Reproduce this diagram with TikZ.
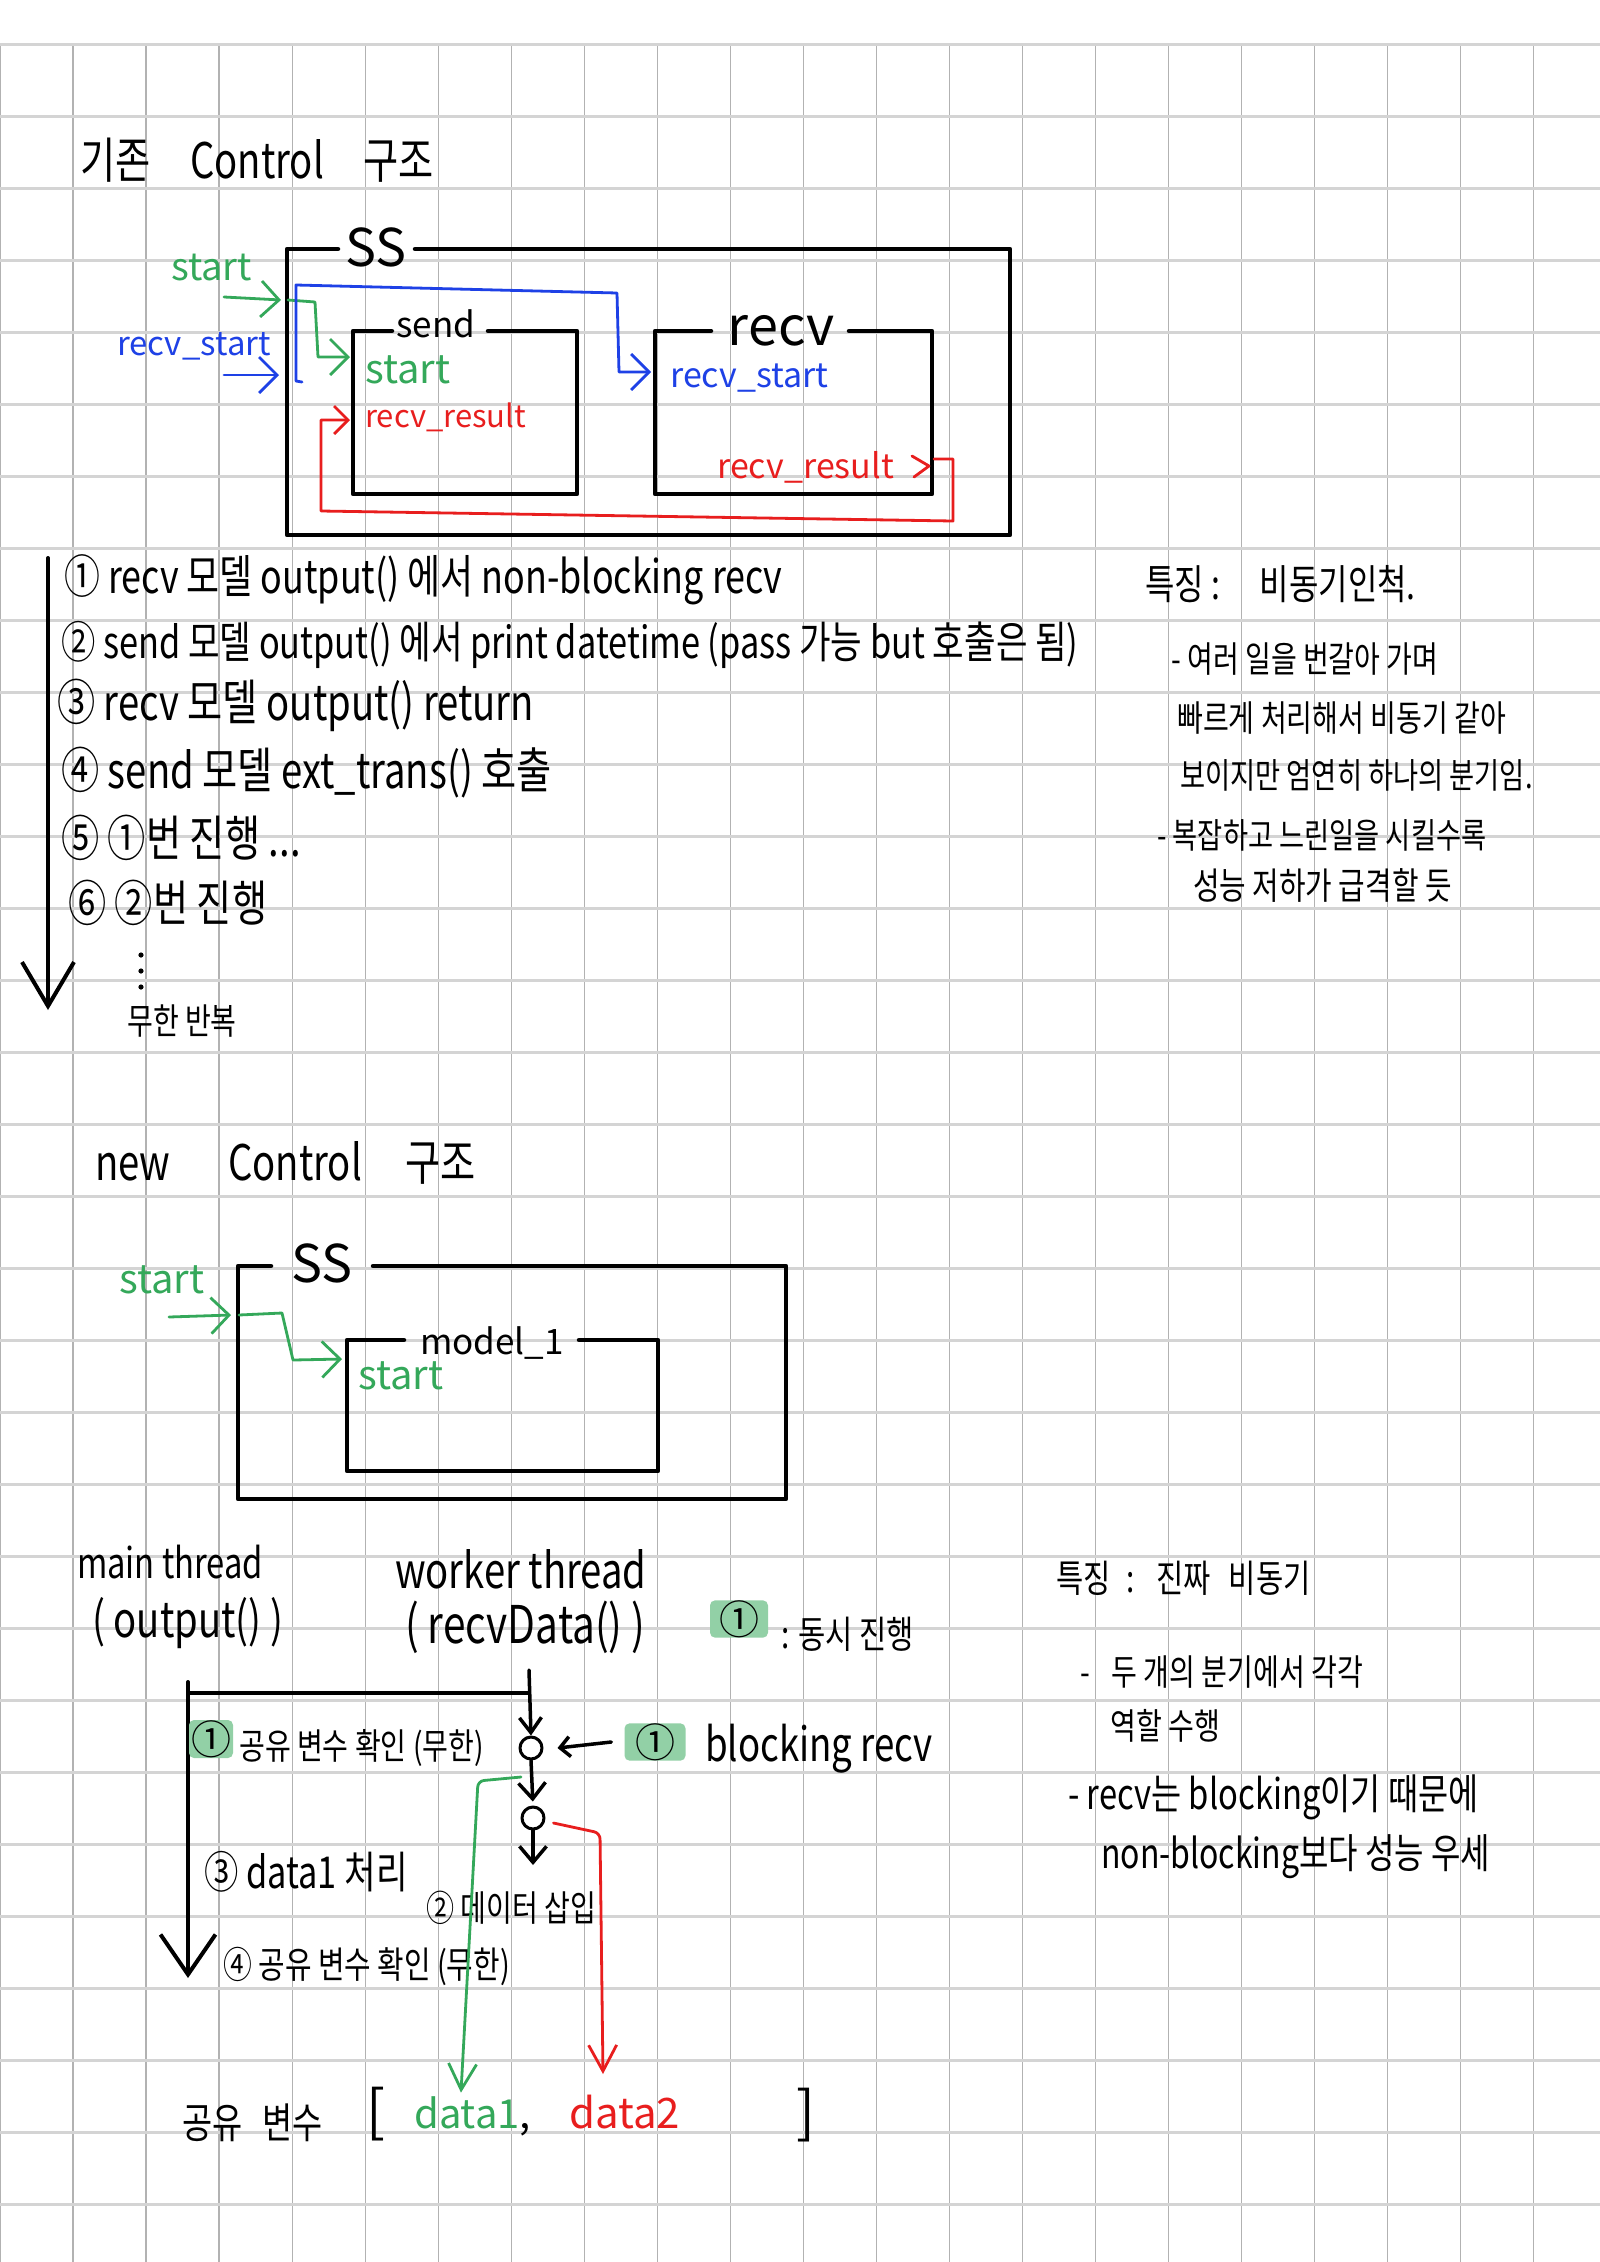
\documentclass[tikz,border=0pt]{standalone}
\usepackage{fontspec}
\setmainfont{Noto Sans CJK KR}
\usetikzlibrary{arrows.meta,calc}
\definecolor{gline}{RGB}{52,168,90}
\definecolor{bline}{RGB}{30,65,230}
\definecolor{rline}{RGB}{232,30,30}
\definecolor{hl}{RGB}{146,208,166}
\definecolor{gridh}{RGB}{212,212,212}
\definecolor{gridv}{RGB}{178,178,178}
\newcommand{\fsz}[1]{\fontsize{#1}{#1}\selectfont}
\newcommand{\nr}[1]{\scalebox{0.78}[1]{#1}}
\begin{document}
\begin{tikzpicture}[x=1pt,y=-1pt,line cap=round,line join=round,
  txt/.style={anchor=west,inner sep=0pt,text=black},
  lbl/.style={inner sep=0pt,text=black},
  hlbox/.style={fill=hl,rounded corners=5pt,inner sep=0pt,text=black},
  boxline/.style={line width=4.5pt,black},
  gpath/.style={line width=2.8pt,color=gline},
  bpath/.style={line width=2.8pt,color=bline},
  rpath/.style={line width=2.8pt,color=rline},
  tipA/.style={-{Straight Barb[length=18pt,width=36pt]}},
  tipS/.style={-{Straight Barb[length=14pt,width=28pt]}},
  tipBig/.style={-{Straight Barb[length=44pt,width=52pt]}},
  tipBigB/.style={-{Straight Barb[length=40pt,width=55pt]}},
  tipSm/.style={-{Straight Barb[length=15pt,width=22pt]}},
  tipSmB/.style={-{Straight Barb[length=16pt,width=27pt]}},
  tipD/.style={-{Straight Barb[length=26pt,width=28pt]}},
  circ/.style={circle,draw,line width=3pt,minimum size=22pt,inner sep=0pt}]
% background and grid
\fill[white] (0,0) rectangle (1600,2262);
\useasboundingbox (0,0) rectangle (1600,2262);
\foreach \k in {0,...,21} \draw[gridv,line width=1.2pt] ({73.03*\k},44.3) -- ({73.03*\k},2262);
\foreach \k in {0,...,30} \draw[gridh,line width=2.5pt] (0,{44.3+72*\k}) -- (1600,{44.3+72*\k});

% ===== Section 1 =====
\node[txt,font=\fsz{49}] (t1) at (80,160) {\nr{기존\hspace{51pt}Control\hspace{51pt}구조}};

\node[lbl,font=\fsz{52}] (ss1) at (376,247) {SS};
\draw[boxline] (338,249) -- (287,249) -- (287,535) -- (1010,535) -- (1010,249) -- (415,249);
\node[lbl,font=\fsz{35}] (sendl) at (436,324) {send};
\draw[boxline] (392,331) -- (353,331) -- (353,494) -- (577,494) -- (577,331) -- (488,331);
\node[lbl,font=\fsz{54}] (recvl) at (781,331) {recv};
\draw[boxline] (711,331) -- (655,331) -- (655,494) -- (932,494) -- (932,331) -- (849,331);

\node[txt,font=\fsz{38},text=gline] (gs1) at (171,268) {start};
\node[txt,font=\fsz{33},text=bline] (bs1) at (117,346) {recv\_start};
\node[txt,font=\fsz{40},text=gline] (sst) at (365,370) {start};
\node[txt,font=\fsz{31},text=rline] (rr1) at (365,417) {recv\_result};
\node[txt,font=\fsz{34},text=bline] (rst) at (670,378) {recv\_start};
\node[txt,font=\fsz{34},text=rline] (rr2) at (717,467) {recv\_result};

\draw[gpath,tipA] (224,297) -- (281,300);
\draw[gpath,tipA] (288,300) -- (315,302) -- (318,357) -- (350,357);
\draw[bpath,tipA] (224,375) -- (279,375);
\draw[bpath,tipA] (302,382) -- (296,381) -- (296,285) -- (617,293) -- (619,372) -- (651,372);
\draw[rpath] (912,456) -- (929,466) -- (914,477);
\draw[rpath,tipS] (934,459) -- (953,459) -- (953,521) -- (321,511) -- (321,420) -- (350,420);

% list
\coordinate (a1s) at (48,558);
\coordinate (a1e) at (48,1010);
\draw[line width=4pt,tipBig] (a1s) -- (a1e);
\node[txt,font=\fsz{46}] (l1) at (64,580) {\nr{① recv 모델 output() 에서 non-blocking recv}};
\node[txt,font=\fsz{44}] (l2) at (61,645) {\nr{② send 모델 output() 에서 print datetime (pass 가능 but 호출은 됨)}};
\node[txt,font=\fsz{49}] (l3) at (57,705) {\nr{③ recv 모델 output() return}};
\node[txt,font=\fsz{49}] (l4) at (61,773) {\nr{④ send 모델 ext\_trans() 호출}};
\node[txt,font=\fsz{49}] (l5) at (61,838) {\nr{⑤ ①번 진행 ...}};
\node[txt,font=\fsz{49}] (l6) at (68,903) {\nr{⑥ ②번 진행}};
\fill (141,955) circle[radius=2.6pt];
\fill (141,971) circle[radius=2.6pt];
\fill (141,987) circle[radius=2.6pt];
\node[txt,font=\fsz{36}] (inf) at (127,1021) {\nr{무한 반복}};

% right notes 1
\node[txt,font=\fsz{41}] (f1) at (1145,584) {\nr{특징 :\hspace{51pt}비동기인척.}};
\node[txt,font=\fsz{36}] (f2) at (1171,659) {\nr{- 여러 일을 번갈아 가며}};
\node[txt,font=\fsz{36}] (f3) at (1177,718) {\nr{빠르게 처리해서 비동기 같아}};
\node[txt,font=\fsz{35}] (f4) at (1180,775) {\nr{보이지만 엄연히 하나의 분기임.}};
\node[txt,font=\fsz{35}] (f5) at (1157,835) {\nr{- 복잡하고 느린일을 시킬수록}};
\node[txt,font=\fsz{37}] (f6) at (1193,885) {\nr{성능 저하가 급격할 듯}};

% ===== Section 2 =====
\node[txt,font=\fsz{49}] (t2) at (95,1163) {\nr{new\hspace{74pt}Control\hspace{56pt}구조}};
\node[lbl,font=\fsz{52}] (ss2) at (322,1263) {SS};
\draw[boxline] (271,1266) -- (238,1266) -- (238,1499) -- (786,1499) -- (786,1266) -- (373,1266);
\node[lbl,font=\fsz{35}] (ml) at (492,1343) {model\_1};
\draw[boxline] (404,1340) -- (347,1340) -- (347,1471) -- (658,1471) -- (658,1340) -- (579,1340);
\node[txt,font=\fsz{40},text=gline] (gs2) at (119,1280) {start};
\draw[gpath,tipA] (169,1317) -- (231,1315);
\draw[gpath,tipA] (239,1315) -- (282,1313) -- (293,1360) -- (342,1359);
\node[txt,font=\fsz{40},text=gline] (ms) at (358,1376) {start};

% threads
\node[txt,font=\fsz{42}] (mt) at (77,1562) {\nr{main thread}};
\node[txt,font=\fsz{49}] (mo) at (92,1623) {\nr{( output() )}};
\node[txt,font=\fsz{49}] (wt) at (395,1569) {\nr{worker thread}};
\node[txt,font=\fsz{52}] (wr) at (405,1627) {\nr{( recvData() )}};
\node[hlbox,font=\fsz{40},minimum width=58pt,minimum height=32pt] (h1) at (739,1619) {①};
\node[txt,font=\fsz{38}] (h1t) at (781,1634) {\nr{: 동시 진행}};

\coordinate (mtop) at (188,1682);
\coordinate (mbot) at (188,1978);
\coordinate (wtop) at (529,1670);
\coordinate (wend) at (533,1865);
\draw[line width=4pt] (188,1693) -- (529,1693);
\draw[line width=4pt,tipBigB] (mtop) -- (mbot);
\node[circ] (c1) at (531,1748) {};
\node[circ] (c2) at (533,1818) {};
\draw[line width=3.5pt,tipSm] (wtop) -- (c1.north);
\draw[line width=3.5pt,tipSmB,shorten >=4pt] (c1.south) -- (c2.north);
\draw[line width=3.5pt,tipSmB] (c2.south) -- (wend);

\node[hlbox,font=\fsz{40},minimum width=61pt,minimum height=31pt] (h2) at (655,1742) {①};
\node[txt,font=\fsz{47}] (h2t) at (705,1749) {\nr{blocking recv}};
\draw[line width=3.5pt,-{Straight Barb[length=10pt,width=20pt]}] ([xshift=-13pt]h2.west) -- ($(c1.east)+(14,0)$);

\node[hlbox,font=\fsz{40},minimum width=44pt,minimum height=38pt] (h3) at (211,1739) {①};
\node[txt,font=\fsz{36}] (h3t) at (239,1748) {\nr{공유 변수 확인 (무한)}};

\node[txt,font=\fsz{44}] (n3) at (204,1872) {\nr{③ data1 처리}};
\node[txt,font=\fsz{36}] (n2) at (426,1908) {\nr{② 데이터 삽입}};
\node[txt,font=\fsz{37}] (n4) at (223,1966) {\nr{④ 공유 변수 확인 (무한)}};

\node[txt,font=\fsz{42}] (sv) at (182,2123) {\nr{공유\hspace{26pt}변수}};
\node[lbl,font=\fsz{56}] (lb) at (376,2114) {[};
\node[txt,font=\fsz{40},text=gline] (d1) at (414,2113) {data1};
\node[txt,font=\fsz{40}] (cm) at (519,2130) {,};
\node[txt,font=\fsz{42},text=rline] (d2) at (569,2112) {data2};
\node[lbl,font=\fsz{56}] (rb) at (806,2115) {]};

\draw[gpath,tipD,rounded corners=6pt] (521,1777) -- (478,1781) -- ($(d1.north)+(-6,-4)$);
\draw[rpath,tipD,rounded corners=6pt] ($(c2.east)+(8,5)$) -- (600,1833) -- (603,2074);

% right notes 2
\node[txt,font=\fsz{38}] (g1) at (1056,1578) {\nr{특징\hspace{20pt}:\hspace{28pt}진짜\hspace{23pt}비동기}};
\node[txt,font=\fsz{36}] (g2) at (1080,1672) {\nr{-\hspace{28pt}두 개의 분기에서 각각}};
\node[txt,font=\fsz{36}] (g3) at (1110,1726) {\nr{역할 수행}};
\node[txt,font=\fsz{42}] (g4) at (1068,1797) {\nr{- recv는 blocking이기 때문에}};
\node[txt,font=\fsz{41}] (g5) at (1101,1857) {\nr{non-blocking보다 성능 우세}};
\end{tikzpicture}
\end{document}
